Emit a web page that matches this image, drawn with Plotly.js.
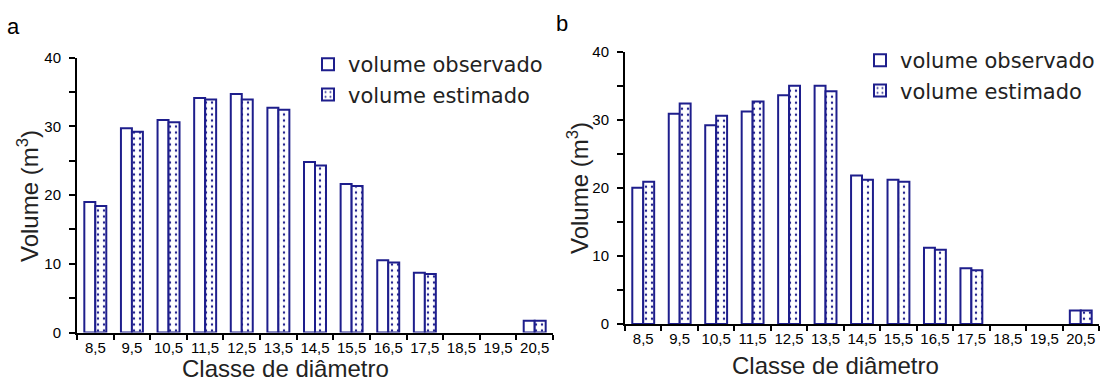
<!DOCTYPE html>
<html>
<head>
<meta charset="utf-8">
<script src="https://cdn.plot.ly/plotly-3.0.1.min.js"></script>
<style>html,body{margin:0;padding:0;background:#fff;}#chart{width:1103px;height:381px;}</style>
</head>
<body>
<div id="chart"></div>
<script>
// Diameter classes
const categories = ['8,5','9,5','10,5','11,5','12,5','13,5','14,5','15,5','16,5','17,5','18,5','19,5','20,5'];
// Panel a
const observedA = [19.0, 29.7, 30.9, 34.1, 34.7, 32.7, 24.8, 21.6, 10.5, 8.7, 0, 0, 1.7];
const estimatedA = [18.4, 29.2, 30.6, 33.9, 33.9, 32.4, 24.3, 21.3, 10.2, 8.5, 0, 0, 1.7];
// Panel b
const observedB = [20.0, 30.9, 29.2, 31.2, 33.6, 35.0, 21.8, 21.2, 11.2, 8.2, 0, 0, 2.0];
const estimatedB = [20.9, 32.4, 30.6, 32.7, 35.0, 34.2, 21.2, 20.9, 10.9, 7.9, 0, 0, 2.0];
const seriesNames = ['volume observado', 'volume estimado'];
const panelLabels = ['a', 'b'];
const xTitle = 'Classe de diâmetro';
const yTitle = 'Volume (m<sup>3</sup>)';

const NAVY = '#1e1e8c';
function outline(vals) { return {color: NAVY, width: vals.map(v => v > 0 ? 2 : 0)}; }
function obsMarker(vals) { return {color: '#ffffff', line: outline(vals)}; }
function estMarker(vals) {
  return {color: '#ffffff', line: outline(vals),
    pattern: {shape: '.', fgcolor: NAVY, bgcolor: '#ffffff', size: 6, solidity: 0.12}};
}

const traces = [
  {type:'bar', x:categories, y:observedA, name:seriesNames[0], marker:obsMarker(observedA), xaxis:'x', yaxis:'y', legend:'legend'},
  {type:'bar', x:categories, y:estimatedA, name:seriesNames[1], marker:estMarker(estimatedA), xaxis:'x', yaxis:'y', legend:'legend'},
  {type:'bar', x:categories, y:observedB, name:seriesNames[0], marker:obsMarker(observedB), xaxis:'x2', yaxis:'y2', legend:'legend2'},
  {type:'bar', x:categories, y:estimatedB, name:seriesNames[1], marker:estMarker(estimatedB), xaxis:'x2', yaxis:'y2', legend:'legend2'}
];

const W = 1103, H = 381;
const SANS = 'Liberation Sans, Arial, sans-serif';
const tickFont = {family: SANS, size: 15, color: '#000'};
const titleFont = {family: SANS, size: 24, color: '#222'};
const yTitleFont = {family: SANS, size: 24, color: '#222'};

function xAxis(domain, anchor) {
  return {domain: domain, anchor: anchor, type: 'category', range: [-0.5, 12.5],
    showline: true, linecolor: '#000', linewidth: 2, ticks: 'outside', tickson: 'boundaries',
    ticklen: 5, tickwidth: 2, tickcolor: '#000', showgrid: false, zeroline: false,
    tickfont: tickFont, tickangle: 0, fixedrange: true, layer: 'above traces'};
}
function yAxis(domain, anchor) {
  return {domain: domain, anchor: anchor, range: [0, 40], dtick: 10, tick0: 0,
    showline: true, linecolor: '#000', linewidth: 2, ticks: 'outside', ticklen: 6,
    tickwidth: 2, tickcolor: '#000', showgrid: false, zeroline: false,
    minor: {dtick: 5, ticks: 'outside', ticklen: 6, tickwidth: 2, tickcolor: '#000', showgrid: false},
    tickfont: tickFont, ticklabelstandoff: 5, fixedrange: true, layer: 'above traces'};
}

const legendFont = {family: 'DejaVu Sans, sans-serif', size: 21, color: '#222'};
function titleAnn(text, x, y, angle, font) {
  return {text: text, xref: 'paper', yref: 'paper', x: x, y: y, xanchor: 'center', yanchor: 'middle',
    textangle: angle, showarrow: false, font: font};
}
const layout = {
  width: W, height: H,
  margin: {l: 0, r: 0, t: 0, b: 0},
  paper_bgcolor: '#fff', plot_bgcolor: '#fff',
  barmode: 'group', bargap: 0.4, bargroupgap: 0,
  xaxis: xAxis([77/W, 553/W], 'y'),
  yaxis: yAxis([1-332.5/H, 1-57.5/H], 'x'),
  xaxis2: xAxis([625/W, 1099/W], 'y2'),
  yaxis2: yAxis([1-324/H, 1-51.7/H], 'x2'),
  legend: {x: 308/W, y: 1-44/H, xanchor: 'left', yanchor: 'top', font: legendFont,
    bgcolor: 'rgba(0,0,0,0)', borderwidth: 0, tracegroupgap: 0},
  legend2: {x: 860/W, y: 1-40/H, xanchor: 'left', yanchor: 'top', font: legendFont,
    bgcolor: 'rgba(0,0,0,0)', borderwidth: 0, tracegroupgap: 0},
  annotations: [
    {text: panelLabels[0], xref: 'paper', yref: 'paper', x: 5/W, y: 1-12/H, xanchor: 'left', yanchor: 'top',
      showarrow: false, font: {family: SANS, size: 22, color: '#000'}},
    {text: panelLabels[1], xref: 'paper', yref: 'paper', x: 554/W, y: 1-9/H, xanchor: 'left', yanchor: 'top',
      showarrow: false, font: {family: SANS, size: 22, color: '#000'}},
    titleAnn(xTitle, 285/W, 1-368/H, 0, titleFont),
    titleAnn(xTitle, 835/W, 1-365/H, 0, titleFont),
    titleAnn(yTitle, 28/W, 1-196/H, -90, yTitleFont),
    titleAnn(yTitle, 578/W, 1-188/H, -90, yTitleFont)
  ],
  showlegend: true
};

Plotly.newPlot('chart', traces, layout, {displayModeBar: false, staticPlot: true});
</script>
</body>
</html>
